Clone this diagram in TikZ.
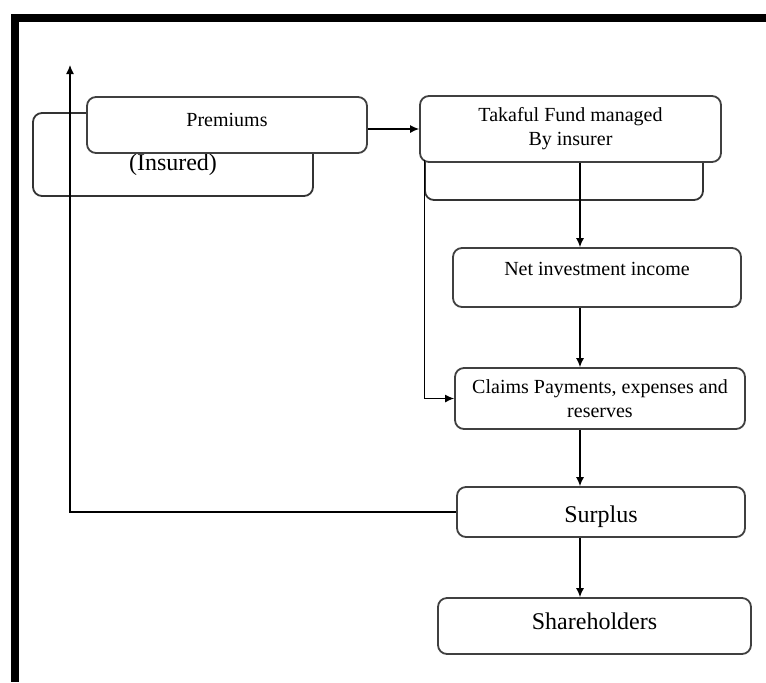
\documentclass[tikz,border=0pt]{standalone}
\usepackage{fontspec}
\setmainfont{Liberation Serif}
\usepackage{tikz}
\usetikzlibrary{arrows.meta}

\begin{document}
\begin{tikzpicture}[
  x=0.5pt, y=-0.5pt,
  box/.style={draw=black!75, line width=0.9pt, rounded corners=4.5pt, fill=white, align=center, font=\fontsize{10}{12}\selectfont, inner sep=2pt},
  backbox/.style={box, draw=black!80},
  arr/.style={-{Latex[length=4.5pt, width=4pt]}, line width=0.6pt},
  link/.style={line width=0.6pt}
]
\useasboundingbox (0,0) rectangle (766,682);

% frame
\draw[line width=4pt] (766,18) -- (14.5,18) -- (14.5,682);

% boxes behind
\node[backbox, minimum width=140pt, minimum height=41.5pt, font=\fontsize{12}{14}\selectfont, text height=18.5pt] (insback) at (173,154.5) {(Insured)};
\node[backbox, minimum width=139pt, minimum height=40pt] (tkback) at (564,160) {};

% main boxes
\node[box, minimum width=140pt, minimum height=28pt, text depth=5pt] (prem) at (227,125) {Premiums};
\node[box, minimum width=150.5pt, minimum height=33pt] (takaful) at (570.5,129) {Takaful Fund managed\\ By insurer};
\node[box, minimum width=144pt, minimum height=29.5pt, text depth=8.5pt] (netinc) at (597,277.5) {Net investment income};
\node[box, minimum width=145pt, minimum height=30.5pt] (claims) at (600,398.5) {Claims Payments, expenses and\\ reserves};
\node[box, minimum width=144pt, minimum height=25pt, font=\fontsize{12}{14}\selectfont, text height=13pt] (surplus) at (601,512) {Surplus};
\node[box, minimum width=156.5pt, minimum height=28pt, font=\fontsize{12}{14}\selectfont, text depth=5pt] (shares) at (594.5,626) {Shareholders};

\coordinate (spine) at (580,0);
\coordinate (top) at (70,65);

\draw[arr] (prem.east |- takaful.west) -- (takaful.west);
\draw[arr] (spine |- takaful.south) -- (spine |- netinc.north);
\draw[arr] (spine |- netinc.south) -- (spine |- claims.north);
\draw[arr] (tkback.west) |- (claims.west);
\draw[arr] (spine |- claims.south) -- (spine |- surplus.north);
\draw[arr] (spine |- surplus.south) -- (spine |- shares.north);
\draw[arr] (surplus.west) -| (top);
\end{tikzpicture}
\end{document}
